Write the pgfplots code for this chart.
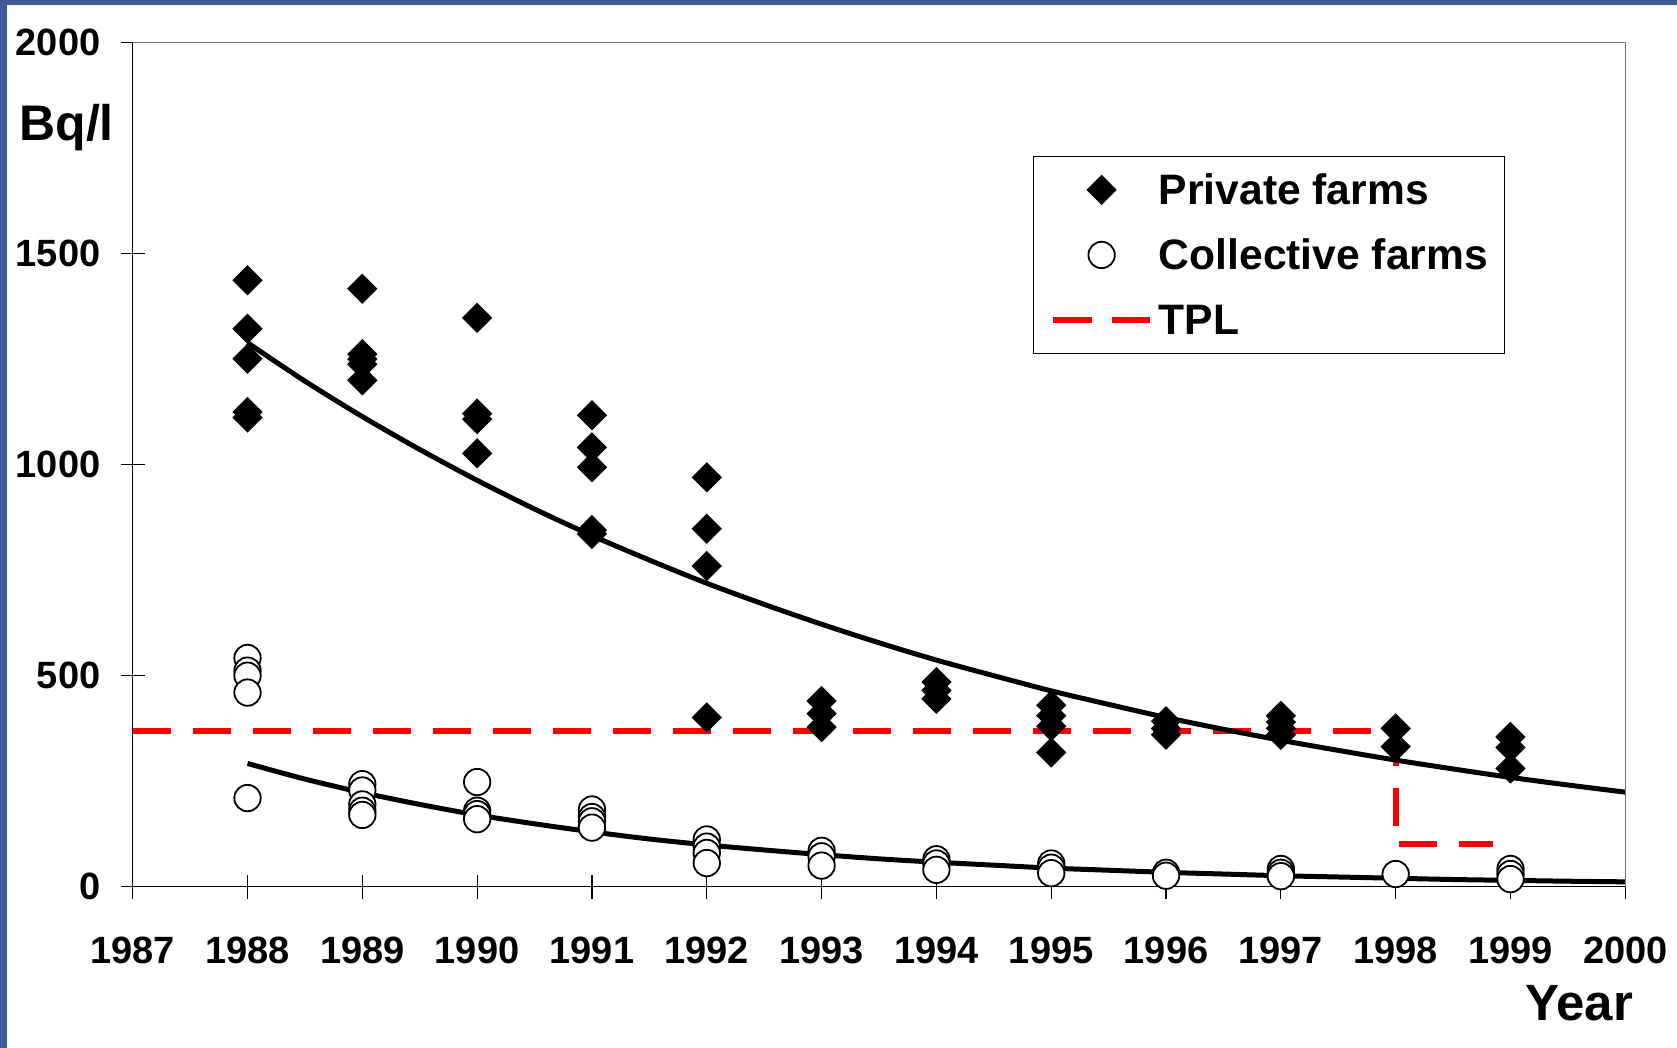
\documentclass[border=0pt]{standalone}
\usepackage{fontspec}
\setmainfont{Liberation Sans}
\usepackage{pgfplots}
\pgfplotsset{compat=1.18}
\definecolor{slideblue}{RGB}{66,92,150}
\definecolor{tplred}{RGB}{255,0,0}
\pgfplotsset{
    markleg/.style={legend image code/.code={\path[draw=none, fill=none] (0pt,0pt) -- (53pt,0pt);
        \draw[##1, only marks] plot coordinates {(24.35pt,0pt)};}},
    lineleg/.style={legend image code/.code={\path[draw=none, fill=none] (0pt,0pt) -- (53pt,0pt);
        \draw[##1] (0pt,0pt) -- (48.7pt,0pt);}},
}

\begin{document}
\begin{tikzpicture}
\begin{axis}[
    scale only axis,
    width=746.3pt, height=422pt,
    xmin=1987, xmax=2000, ymin=0, ymax=2000,
    xtick={1987,1988,...,2000},
    ytick={0,500,1000,1500,2000},
    axis x line*=bottom, axis y line*=left,
    axis line style={black, line width=0.8pt},
    tick style={black, line width=0.6pt},
    tick align=center, major tick length=12pt,
    /pgf/number format/assume math mode=true,
    /pgf/number format/1000 sep={},
    xticklabel style={font=\bfseries\fontsize{19}{19}\selectfont, inner sep=0pt, anchor=north, yshift=-19pt},
    yticklabel style={font=\bfseries\fontsize{19}{19}\selectfont, inner sep=0pt, anchor=east, xshift=-10pt},
    clip=false,
    legend cell align=left,
    legend style={
        at={(0.603,0.8658)}, anchor=north west,
        draw=black, line width=0.6pt,
        inner xsep=8.3pt, inner ysep=8.2pt,
        row sep=15.5pt,
        font=\bfseries\fontsize{21.3}{21.3}\selectfont,
        nodes={inner sep=0pt, text height=16pt, text depth=1pt},
    },
]
% TPL level
\addplot[tplred, line width=3pt, dash pattern=on 19.2pt off 10.8pt, forget plot]
    coordinates {(1987,370) (1998,370) (1998,100) (1998.85,100)};

% Private farms
\addplot[only marks, mark=square*, mark size=5.1pt,
    mark options={rotate=45, fill=black, draw=black, line width=0.5pt}, markleg]
coordinates {
(1988,1437) (1988,1322) (1988,1251) (1988,1125) (1988,1112)
(1989,1417) (1989,1262) (1989,1250) (1989,1238) (1989,1200)
(1990,1348) (1990,1121) (1990,1108) (1990,1027)
(1991,1117) (1991,1041) (1991,994) (1991,845) (1991,836)
(1992,970) (1992,848) (1992,760) (1992,401)
(1993,440) (1993,410) (1993,378)
(1994,485) (1994,465) (1994,445)
(1995,430) (1995,405) (1995,380) (1995,318)
(1996,392) (1996,375) (1996,360)
(1997,405) (1997,390) (1997,375) (1997,360)
(1998,375) (1998,332)
(1999,355) (1999,330) (1999,280)
};
\addlegendentry{Private farms}

% Collective farms
\addplot[only marks, mark=*, mark size=6.6pt,
    mark options={fill=white, draw=black, line width=0.9pt}, markleg]
coordinates {
(1988,542) (1988,512) (1988,500) (1988,460) (1988,210)
(1989,243) (1989,228) (1989,195) (1989,180) (1989,170)
(1990,248) (1990,180) (1990,172) (1990,160)
(1991,183) (1991,165) (1991,155) (1991,140)
(1992,112) (1992,95) (1992,80) (1992,56)
(1993,85) (1993,72) (1993,50)
(1994,65) (1994,55) (1994,40)
(1995,55) (1995,45) (1995,32)
(1996,33) (1996,26)
(1997,42) (1997,33) (1997,25)
(1998,30)
(1999,42) (1999,30) (1999,18)
};
\addlegendentry{Collective farms}

% trend lines
\addplot[black, line width=2.5pt, smooth, forget plot] coordinates {
(1988,1289) (1988.5,1198) (1989,1114) (1989.5,1036) (1990,963) (1990.5,895)
(1991,832) (1991.5,774) (1992,719) (1992.5,669) (1993,622) (1993.5,578)
(1994,537) (1994.5,500) (1995,464) (1995.5,432) (1996,401) (1996.5,373)
(1997,347) (1997.5,323) (1998,300) (1998.5,279) (1999,259) (1999.5,241) (2000,224)
};
\addplot[black, line width=2.5pt, smooth, forget plot] coordinates {
(1988,292) (1988.5,255) (1989,223) (1989.5,195) (1990,170) (1990.5,149)
(1991,130) (1991.5,113) (1992,99) (1992.5,87) (1993,76) (1993.5,66)
(1994,58) (1994.5,51) (1995,44) (1995.5,39) (1996,34) (1996.5,30)
(1997,26) (1997.5,23) (1998,20) (1998.5,17) (1999,15) (1999.5,13) (2000,11.5)
};

\addlegendimage{tplred, line width=3pt, dash pattern=on 19.5pt off 9.85pt, lineleg}
\addlegendentry{TPL}

\draw[black!55, line width=0.6pt] (rel axis cs:0,1) -- (rel axis cs:1,1) -- (rel axis cs:1,0);
\node[anchor=base west, inner sep=0pt, font=\bfseries\fontsize{25}{25}\selectfont]
    at (rel axis cs:-0.0762,0.8847) {Bq/l};
\node[anchor=base east, inner sep=0pt, font=\bfseries\fontsize{25.5}{25.5}\selectfont]
    at (rel axis cs:1.0054,-0.158) {Year};
\end{axis}
\fill[slideblue] (-66.35pt,-80.65pt) rectangle (-62.85pt,443.35pt);
\fill[slideblue] (-66.35pt,440.85pt) rectangle (772.15pt,443.35pt);
\pgfresetboundingbox
\useasboundingbox (-66.35pt,-80.65pt) rectangle (772.15pt,443.35pt);
\end{tikzpicture}
\end{document}
